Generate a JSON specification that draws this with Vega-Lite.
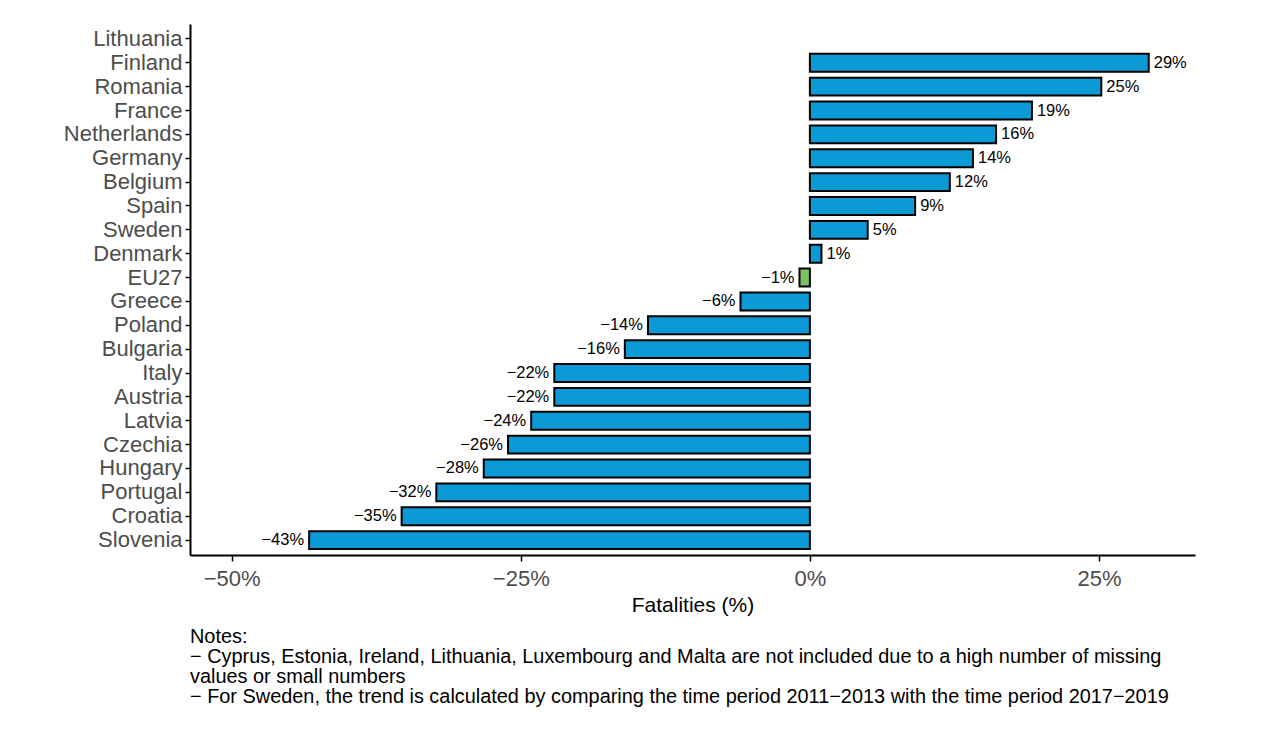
{
  "$schema": "https://vega.github.io/schema/vega-lite/v6.json",
  "width": 1005,
  "height": 531,
  "autosize": "none",
  "padding": {"left": 190, "top": 24, "right": 85, "bottom": 188},
  "background": "white",
  "config": {
    "font": "Liberation Sans",
    "view": {"stroke": null}
  },
  "title": {
    "text": [
      "Notes:",
      "− Cyprus, Estonia, Ireland, Lithuania, Luxembourg and Malta are not included due to a high number of missing",
      "values or small numbers",
      "− For Sweden, the trend is calculated by comparing the time period 2011−2013 with the time period 2017−2019"
    ],
    "orient": "bottom",
    "anchor": "start",
    "frame": "group",
    "align": "left",
    "fontSize": 19.9,
    "fontWeight": "normal",
    "color": "black",
    "lineHeight": 20,
    "offset": 12
  },
  "data": {
    "values": [
      {"country": "Finland", "value": 29.3, "label": "29%", "group": "country"},
      {"country": "Romania", "value": 25.2, "label": "25%", "group": "country"},
      {"country": "France", "value": 19.2, "label": "19%", "group": "country"},
      {"country": "Netherlands", "value": 16.1, "label": "16%", "group": "country"},
      {"country": "Germany", "value": 14.1, "label": "14%", "group": "country"},
      {"country": "Belgium", "value": 12.1, "label": "12%", "group": "country"},
      {"country": "Spain", "value": 9.1, "label": "9%", "group": "country"},
      {"country": "Sweden", "value": 5.0, "label": "5%", "group": "country"},
      {"country": "Denmark", "value": 1.0, "label": "1%", "group": "country"},
      {"country": "EU27", "value": -0.9, "label": "−1%", "group": "EU"},
      {"country": "Greece", "value": -6.0, "label": "−6%", "group": "country"},
      {"country": "Poland", "value": -14.0, "label": "−14%", "group": "country"},
      {"country": "Bulgaria", "value": -16.0, "label": "−16%", "group": "country"},
      {"country": "Italy", "value": -22.1, "label": "−22%", "group": "country"},
      {"country": "Austria", "value": -22.1, "label": "−22%", "group": "country"},
      {"country": "Latvia", "value": -24.1, "label": "−24%", "group": "country"},
      {"country": "Czechia", "value": -26.1, "label": "−26%", "group": "country"},
      {"country": "Hungary", "value": -28.2, "label": "−28%", "group": "country"},
      {"country": "Portugal", "value": -32.3, "label": "−32%", "group": "country"},
      {"country": "Croatia", "value": -35.3, "label": "−35%", "group": "country"},
      {"country": "Slovenia", "value": -43.3, "label": "−43%", "group": "country"}
    ]
  },
  "encoding": {
    "y": {
      "field": "country",
      "type": "nominal",
      "sort": null,
      "scale": {
        "domain": ["Lithuania", "Finland", "Romania", "France", "Netherlands", "Germany", "Belgium", "Spain", "Sweden", "Denmark", "EU27", "Greece", "Poland", "Bulgaria", "Italy", "Austria", "Latvia", "Czechia", "Hungary", "Portugal", "Croatia", "Slovenia"],
        "paddingInner": 0.25,
        "paddingOuter": 0.25
      },
      "axis": {
        "title": null,
        "domainColor": "black",
        "domainWidth": 2,
        "tickColor": "black",
        "tickWidth": 1.5,
        "tickSize": 5,
        "labelFontSize": 22,
        "labelColor": "#4d4d4d",
        "labelPadding": 3,
        "grid": false
      }
    },
    "x": {
      "field": "value",
      "type": "quantitative",
      "scale": {"domain": [-53.6, 33.3], "nice": false, "zero": false},
      "axis": {
        "values": [-50, -25, 0, 25],
        "labelExpr": "replace(format(datum.value, 'd'), '-', '−') + '%'",
        "title": "Fatalities (%)",
        "titleFontSize": 21,
        "titleFontWeight": "normal",
        "titleColor": "black",
        "titlePadding": 5,
        "domainColor": "black",
        "domainWidth": 2,
        "tickColor": "black",
        "tickWidth": 1.5,
        "tickSize": 6,
        "labelFontSize": 22,
        "labelColor": "#4d4d4d",
        "labelPadding": 7,
        "grid": false
      }
    }
  },
  "layer": [
    {
      "mark": {"type": "bar", "stroke": "black", "strokeWidth": 2},
      "encoding": {
        "x2": {"datum": 0},
        "color": {
          "field": "group",
          "type": "nominal",
          "scale": {"domain": ["country", "EU"], "range": ["#0b9ad6", "#7cc462"]},
          "legend": null
        }
      }
    },
    {
      "transform": [{"filter": "datum.value > 0"}],
      "mark": {"type": "text", "align": "left", "baseline": "middle", "dx": 5, "fontSize": 16.5, "color": "black"},
      "encoding": {"text": {"field": "label"}}
    },
    {
      "transform": [{"filter": "datum.value < 0"}],
      "mark": {"type": "text", "align": "right", "baseline": "middle", "dx": -5, "fontSize": 16.5, "color": "black"},
      "encoding": {"text": {"field": "label"}}
    }
  ]
}
